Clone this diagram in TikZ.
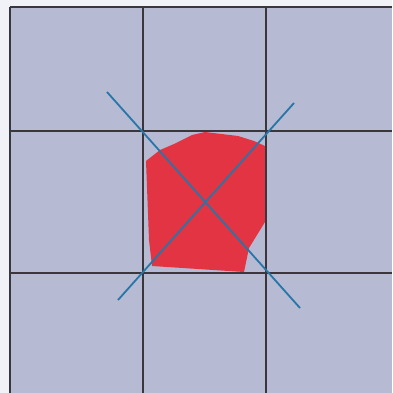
\documentclass[tikz,border=0pt]{standalone}
\definecolor{bgwhite}{RGB}{240,242,247}
\definecolor{cellfill}{RGB}{182,186,210}
\definecolor{gridline}{RGB}{58,54,60}
\definecolor{blobred}{RGB}{226,52,66}
\definecolor{diagblue}{RGB}{38,118,168}
\tikzset{
  gridstroke/.style={draw=gridline, line width=2.2pt},
  diagstroke/.style={draw=diagblue, line width=1.8pt},
  blob/.style={fill=blobred, draw=none}
}
\begin{document}
\begin{tikzpicture}[x=1pt,y=-1pt]
\useasboundingbox (0,0) rectangle (392,393);
\fill[bgwhite] (0,0) rectangle (392,393);
\fill[cellfill] (10,7) rectangle (392,393);
% red polygon
\path[blob] (146,161) -- (160,150) -- (174,144) -- (192,135) -- (205,132)
  -- (238,136) -- (254,141) -- (265,146) -- (265,222) -- (257,235)
  -- (249,248) -- (244,272) -- (152,266) -- (149,240) -- cycle;
% grid
\draw[gridstroke] (10,7) -- (392,7);
\draw[gridstroke] (10,131) -- (392,131);
\draw[gridstroke] (10,273) -- (392,273);
\draw[gridstroke] (10,7) -- (10,393);
\draw[gridstroke] (143,7) -- (143,393);
\draw[gridstroke] (266,7) -- (266,393);
% diagonals
\draw[diagstroke] (107,92) -- (300,308);
\draw[diagstroke] (118,300) -- (294,103);
\end{tikzpicture}
\end{document}
